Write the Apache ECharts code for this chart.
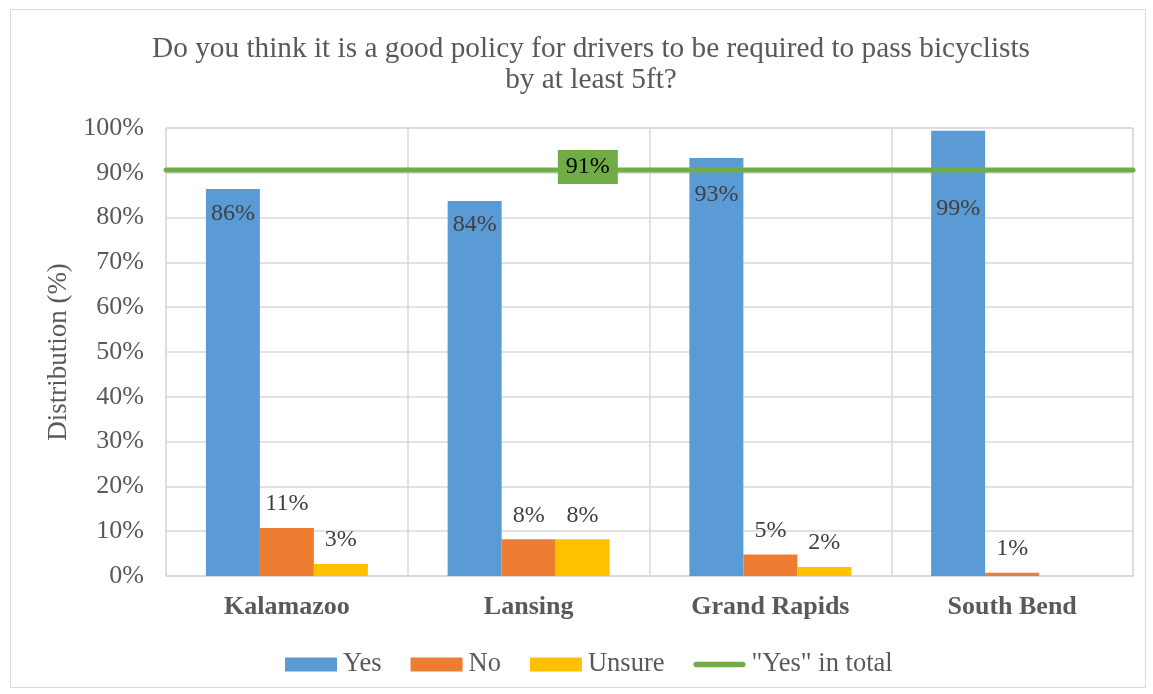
<!DOCTYPE html>
<html>
<head>
<meta charset="utf-8">
<title>Passing distance policy</title>
<script src="https://cdn.jsdelivr.net/npm/echarts@6/dist/echarts.min.js"></script>
<style>
  html, body { margin: 0; padding: 0; background: #fff; }
  #frame { position: absolute; left: 10px; top: 9px; width: 1136px; height: 679px; border: 1.5px solid #d9d9d9; box-sizing: border-box; }
  #chart { width: 1153px; height: 694px; }
</style>
</head>
<body>
<div id="frame"></div>
<div id="chart"></div>
<script>
// Survey answers per city, in percent
const cities = ['Kalamazoo', 'Lansing', 'Grand Rapids', 'South Bend'];
const yesValues = [86.4, 83.7, 93.3, 99.4];
const noValues = [10.7, 8.2, 4.8, 0.7];
const unsureValues = [2.7, 8.2, 2.0, 0];
// Share answering "Yes" across all cities
const yesTotal = 90.6;
const yesTotalLabelPos = 1.745; // along the city span (0..4)
// "Yes" labels pushed further down where the total line would cover them
const yesLabelDistance = [13, 12, 25, 66];

const font = 'Liberation Serif';
const textGrey = '#595959';
const gridGrey = '#d9d9d9';
const green = '#70ad47';

const pct = p => Math.round(p.value) + '%';
const labelFor = (pos, dist) => ({
  show: true, position: pos, distance: dist,
  fontFamily: font, fontSize: 24, color: '#404040',
  formatter: p => (p.value > 0 ? pct(p) : '')
});

const chart = echarts.init(document.getElementById('chart'), null, { renderer: 'canvas' });
chart.setOption({
  animation: false,
  title: {
    text: 'Do you think it is a good policy for drivers to be required to pass bicyclists\nby at least 5ft?',
    left: 586, top: 29, textAlign: 'center',
    textStyle: { fontFamily: font, fontSize: 29.3, fontWeight: 'normal', color: textGrey, lineHeight: 31 }
  },
  legend: {
    top: 646, left: 280,
    itemWidth: 52, itemHeight: 14, itemGap: 29,
    textStyle: { fontFamily: font, fontSize: 26.5, color: textGrey, padding: [0, 0, 0, 1] },
    data: [
      { name: 'Yes', icon: 'rect' },
      { name: 'No', icon: 'rect' },
      { name: 'Unsure', icon: 'rect' },
      { name: '"Yes" in total', icon: 'path://M3,0 L53,0 A3,3 0 0 1 53,6 L3,6 A3,3 0 0 1 3,0 Z', itemStyle: { color: green } }
    ]
  },
  grid: {
    left: 166, right: 20, top: 128, bottom: 118,
    show: true, borderColor: gridGrey, borderWidth: 1
  },
  xAxis: [
    {
      type: 'category', data: cities,
      axisLine: { lineStyle: { color: gridGrey, width: 1.5 } },
      axisTick: { show: false },
      splitLine: { show: true, lineStyle: { color: gridGrey, width: 1.5 } },
      axisLabel: { fontFamily: font, fontSize: 26, fontWeight: 'bold', color: textGrey, margin: 18 }
    },
    {
      type: 'value', min: 0, max: 4, show: false
    }
  ],
  yAxis: {
    type: 'value', min: 0, max: 100, interval: 10,
    name: 'Distribution (%)', nameLocation: 'middle', nameGap: 93,
    nameTextStyle: { fontFamily: font, fontSize: 27, color: textGrey },
    axisLine: { show: false }, axisTick: { show: false },
    splitLine: { lineStyle: { color: gridGrey, width: 1.5 } },
    axisLabel: { fontFamily: font, fontSize: 26, color: textGrey, margin: 22, formatter: '{value}%' }
  },
  series: [
    {
      name: 'Yes', type: 'bar', barGap: '0%', barCategoryGap: '33%',
      data: yesValues.map((v, i) => ({ value: v, label: { distance: yesLabelDistance[i] } })),
      itemStyle: { color: '#5b9bd5' }, label: labelFor('insideTop', 12)
    },
    {
      name: 'No', type: 'bar', data: noValues,
      itemStyle: { color: '#ed7d31' }, label: labelFor('top', 12)
    },
    {
      name: 'Unsure', type: 'bar', data: unsureValues,
      itemStyle: { color: '#ffc000' }, label: labelFor('top', 12)
    },
    {
      name: '"Yes" in total', type: 'line', xAxisIndex: 1,
      data: [[0, yesTotal], [4, yesTotal]],
      symbol: 'none', z: 3,
      lineStyle: { color: green, width: 5, cap: 'round' },
      itemStyle: { color: green },
      markPoint: {
        z: 10,
        symbol: 'rect', symbolSize: 0,
        data: [{ coord: [yesTotalLabelPos, yesTotal], value: yesTotal }],
        label: {
          show: true, position: 'inside', offset: [0, -3],
          formatter: p => Math.round(p.value) + '%',
          fontFamily: font, fontSize: 24, color: '#000',
          backgroundColor: green, padding: [6, 8, 4, 8]
        }
      }
    }
  ]
});
</script>
</body>
</html>
